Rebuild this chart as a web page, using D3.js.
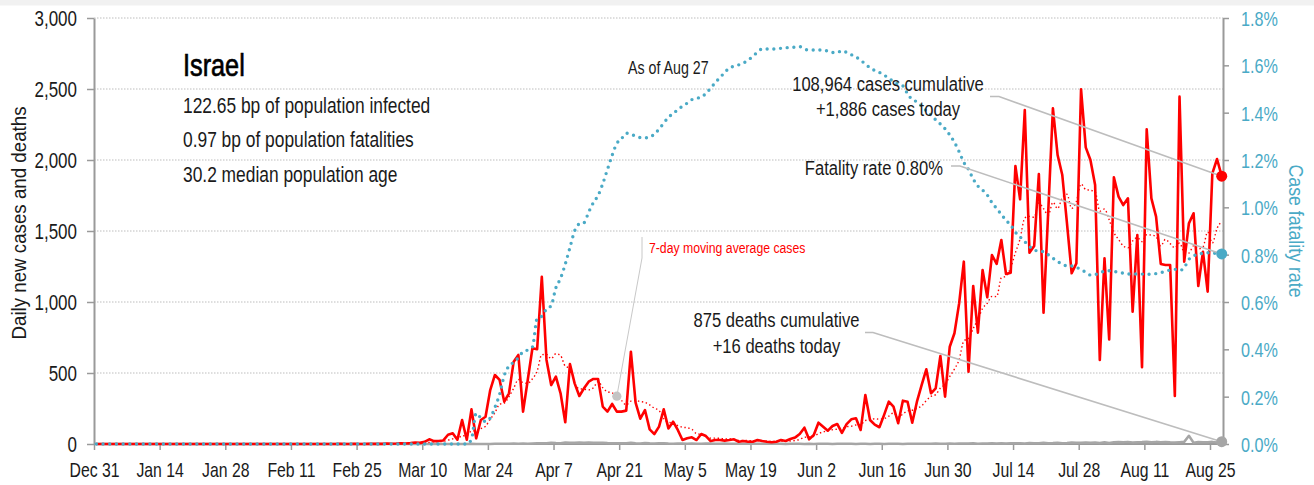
<!DOCTYPE html>
<html>
<head>
<meta charset="utf-8">
<script src="https://cdn.jsdelivr.net/npm/d3@7"></script>
<style>
  body { margin: 0; background: #fff; }
  svg text { font-family: "Liberation Sans", Arial, sans-serif; }
</style>
</head>
<body>
<svg id="chart" width="1314" height="485"></svg>
<script>
// Israel, daily series starting Dec 31, 2019 (one value per day through Aug 27, 2020)
const firstDate = "2019-12-31";

const dailyCases = [
  0,0,0,0,0,0,0,0,0,0, 0,0,0,0,0,0,0,0,0,0, 0,0,0,0,0,0,0,0,0,0,
  0,0,0,0,0,0,0,0,0,0, 0,0,0,0,0,0,0,0,0,0, 0,0,
  1,0,0,1,0,0,2,1,1,1,3,2,3,5,4,6,11,8,15,
  33,20,21,25,65,75,30,169,30,244,
  40,169,192,380,486,451,298,357,580,627,
  228,451,674,667,1178,592,415,474,357,153,
  563,427,338,392,439,458,458,263,228,282,
  228,228,235,650,292,178,239,103,70,122,
  244,110,157,99,28,40,47,28,70,56,
  21,28,28,24,28,33,16,21,16,16,
  28,21,16,12,16,28,21,35,45,70,
  115,33,63,150,122,94,127,141,78,140,
  174,181,99,345,169,136,118,205,298,263,
  146,305,298,150,298,415,526,357,392,620,
  333,685,780,990,1284,509,1113,784,1225,1033,
  1331,1268,1437,1197,1206,1958,1723,2352,1347,1394,
  1901,925,1636,2364,2035,1894,1554,1202,1272,2498,
  2089,2000,1824,592,1308,737,1878,1742,1683,1730,
  932,1472,540,2216,1730,1601,1268,1261,1261,338,
  2446,1284,1554,1625,1113,1354,1073,1906,2007,1886
];

const dailyDeaths = [
  0,0,0,0,0,0,0,0,0,0, 0,0,0,0,0,0,0,0,0,0, 0,0,0,0,0,0,0,0,0,0,
  0,0,0,0,0,0,0,0,0,0, 0,0,0,0,0,0,0,0,0,0, 0,0,0,0,0,0,0,0,0,0,
  0,0,0,0,0,0,0,0,0,0, 0,0,0,0,0,0,0,0,0,0,
  1,0,0,0,0,1,1,1,2,3,2,4,
  1,4,6,5,6,9,7,6,10,8, 9,11,9,10,8,8,9,7,6,6, 5,6,8,5,4,7,5,4,5,5,
  3,2,4,3,2,3,2,2,3,4, 1,2,3,1,2,2,1,3,1,2, 1,2,1,1,2,0,1,2,1,0, 1,
  0,1,2,1,0,2,1,1,1,0, 1,2,0,1,1,0,2,1,1,0, 2,1,1,2,1,1,3,2,2,3,
  2,4,3,3,5,2,4,3,5,4, 6,3,5,6,5,4,7,6,5,8, 6,7,9,6,7,10,8,9,11,8, 10,
  7,12,7,13,14,12,15,11,13,14, 16,12,15,13,14,12,11,13,15,58, 9,14,12,13,15,10,16
];

// cumulative deaths / cumulative cases, in percent
const fatalityRatePct = [
  0,0,0,0,0,0,0,0,0,0, 0,0,0,0,0,0,0,0,0,0, 0,0,0,0,0,0,0,0,0,0,
  0,0,0,0,0,0,0,0,0,0, 0,0,0,0,0,0,0,0,0,0, 0,0,0,0,0,0,0,0,0,0,
  0,0,0,0,0,0,0,0,0,0, 0,0,0,0,0,0,0,0,0,0,
  0.02,0.13,0.11,0.095,0.11,0.155,0.21,0.29,0.33,0.345,
  0.365,0.39,0.397,0.41,0.53,0.54,0.57,0.585,0.66,0.70,
  0.76,0.83,0.90,0.93,0.935,0.98,1.02,1.05,1.10,1.16,
  1.22,1.27,1.29,1.313,1.31,1.30,1.295,1.294,1.296,1.31,
  1.33,1.356,1.38,1.397,1.412,1.428,1.44,1.455,1.461,1.465,
  1.482,1.503,1.527,1.549,1.569,1.59,1.596,1.602,1.61,1.622,
  1.638,1.656,1.669,1.669,1.669,1.67,1.672,1.674,1.676,1.677,
  1.679,1.668,1.665,1.665,1.665,1.665,1.66,1.654,1.654,1.662,
  1.655,1.645,1.635,1.622,1.605,1.59,1.578,1.57,1.559,1.545,
  1.532,1.52,1.513,1.48,1.455,1.446,1.428,1.408,1.39,1.37,
  1.352,1.332,1.306,1.275,1.235,1.19,1.16,1.12,1.09,1.073,
  1.052,1.02,0.995,0.97,0.945,0.925,0.895,0.875,0.855,0.835,
  0.82,0.815,0.813,0.8,0.785,0.77,0.762,0.752,0.752,0.746,
  0.738,0.725,0.714,0.716,0.724,0.73,0.732,0.729,0.726,0.722,
  0.718,0.718,0.718,0.718,0.717,0.718,0.72,0.724,0.73,0.735,
  0.738,0.733,0.745,0.78,0.795,0.802,0.806,0.808,0.807,0.805,0.803
];

const caseTicks = [0, 500, 1000, 1500, 2000, 2500, 3000];
const rateTicks = [0, 0.2, 0.4, 0.6, 0.8, 1.0, 1.2, 1.4, 1.6, 1.8];
const dateTickStepDays = 14;
const dateTickCount = 18;

const infoLines = [
  "122.65 bp of population infected",
  "0.97 bp of population fatalities",
  "30.2 median population age"
];
const casesNote = ["108,964 cases cumulative", "+1,886 cases today"];
const deathsNote = ["875 deaths cumulative", "+16 deaths today"];
const rateNote = "Fatality rate 0.80%";
const asOfNote = "As of Aug 27";
const maNote = "7-day moving average cases";
const maNoteDay = 111;

// ---- layout
const W = 1314, H = 485;
const plot = { left: 94, right: 1223, top: 18, bottom: 444 };
const RED = "#ff0000", BLUE = "#4aaac6", GREY = "#a6a6a6", AXIS = "#9a9a9a", INK = "#1a1a1a";
const NARROW = 0.79;   // horizontal squeeze giving the condensed lettering

// squeeze text horizontally while keeping its anchor point in place
function squeeze(sel, k = NARROW) {
  sel.each(function () {
    const t = d3.select(this);
    const x = +(t.attr("x") || 0);
    t.attr("x", x / k);
    t.selectAll("tspan").each(function () {
      const ts = d3.select(this);
      if (ts.attr("x") != null) ts.attr("x", +ts.attr("x") / k);
    });
    const tr = t.attr("transform") || "";
    t.attr("transform", `${tr} scale(${k},1)`.trim());
  });
}

const svg = d3.select("#chart");
svg.append("rect").attr("x", 0).attr("y", 0).attr("width", W).attr("height", 5.5).attr("fill", "#f1f1f1");

const t0 = d3.timeParse("%Y-%m-%d")(firstDate);
const dayAt = i => d3.timeHour.offset(d3.timeDay.offset(t0, i), 12);
const tickDates = d3.range(dateTickCount).map(k => d3.timeDay.offset(t0, k * dateTickStepDays));

const x = d3.scaleTime()
  .domain([t0, tickDates[tickDates.length - 1]])
  .range([plot.left, 1210]);
const yL = d3.scaleLinear().domain([0, 3000]).range([plot.bottom, plot.top]);
const yR = d3.scaleLinear().domain([0, 1.8]).range([plot.bottom, plot.top]);

const rows = dailyCases.map((c, i) => ({
  date: dayAt(i),
  cases: c,
  deaths: dailyDeaths[i],
  rate: fatalityRatePct[i]
}));
// trailing 7-day mean of daily cases
rows.forEach((r, i) => {
  const win = rows.slice(Math.max(0, i - 6), i + 1);
  r.avg = d3.mean(win, d => d.cases);
});

// ---- grid
svg.append("g").selectAll("line")
  .data(caseTicks.filter(v => v > 0))
  .join("line")
  .attr("x1", plot.left).attr("x2", plot.right)
  .attr("y1", d => yL(d)).attr("y2", d => yL(d))
  .attr("stroke", "#bdbdbd").attr("stroke-width", 1)
  .attr("stroke-dasharray", "1.5 1.5");

// ---- axes
function styleAxis(g, color, size) {
  g.attr("font-family", null).attr("font-size", null);
  g.select(".domain").attr("stroke", AXIS).attr("stroke-width", 2);
  g.selectAll(".tick line").attr("stroke", AXIS).attr("stroke-width", 1.5);
  g.selectAll(".tick text").attr("fill", color).attr("font-size", size);
}

svg.append("g")
  .attr("transform", `translate(${plot.left},0)`)
  .call(d3.axisLeft(yL).tickValues(caseTicks).tickFormat(d3.format(",")).tickSize(7).tickSizeOuter(0).tickPadding(10))
  .call(g => styleAxis(g, INK, 21.5))
  .call(g => g.selectAll(".tick text").attr("dy", "0.36em").call(squeeze));

svg.append("g")
  .attr("transform", `translate(${plot.right},0)`)
  .call(d3.axisRight(yR).tickValues(rateTicks).tickFormat(d => d.toFixed(1) + "%").tickSize(6).tickSizeOuter(0).tickPadding(12))
  .call(g => styleAxis(g, BLUE, 20.5))
  .call(g => g.selectAll(".tick text").attr("dy", "0.36em").call(squeeze));

const xAxisG = svg.append("g")
  .attr("transform", `translate(0,${plot.bottom})`)
  .call(d3.axisBottom(x).tickValues(tickDates).tickFormat(d3.timeFormat("%b %-d")).tickSize(6).tickSizeOuter(0).tickPadding(13))
  .call(g => styleAxis(g, INK, 20))
  .call(g => g.selectAll(".tick text").call(squeeze));
xAxisG.select(".domain").attr("d", `M${plot.left},0H${plot.right}`);

// ---- axis titles
svg.append("text")
  .attr("transform", `translate(26,223) rotate(-90)`)
  .attr("text-anchor", "middle").attr("font-size", 19.5).attr("fill", INK)
  .text("Daily new cases and deaths")
  .call(squeeze, 0.96);
svg.append("text")
  .attr("transform", `translate(1289,231) rotate(90)`)
  .attr("text-anchor", "middle").attr("font-size", 19.5).attr("fill", BLUE)
  .text("Case fatality rate")
  .call(squeeze, 0.91);

// ---- series
const lineOf = (y, key) => d3.line().x(d => x(d.date)).y(d => y(d[key]));

svg.append("path").datum(rows)
  .attr("d", lineOf(yL, "deaths"))
  .attr("fill", "none").attr("stroke", GREY).attr("stroke-width", 2.5).attr("stroke-linejoin", "round");

svg.append("path").datum(rows)
  .attr("d", lineOf(yL, "cases"))
  .attr("fill", "none").attr("stroke", RED).attr("stroke-width", 2.6).attr("stroke-linejoin", "round");

svg.append("path").datum(rows)
  .attr("d", lineOf(yL, "avg").curve(d3.curveMonotoneX))
  .attr("fill", "none").attr("stroke", RED).attr("stroke-width", 1.4)
  .attr("stroke-dasharray", "1.4 2.6");

svg.append("path").datum(rows)
  .attr("d", lineOf(yR, "rate").curve(d3.curveMonotoneX))
  .attr("fill", "none").attr("stroke", BLUE).attr("stroke-width", 3.4)
  .attr("stroke-linecap", "round").attr("stroke-dasharray", "0 6.7");

// ---- annotations
const last = rows[rows.length - 1];
const leader = pts => svg.append("path")
  .attr("d", d3.line()(pts))
  .attr("fill", "none").attr("stroke", "#bdbdbd").attr("stroke-width", 1.6);

// moving-average callout
const maRow = rows[maNoteDay];
svg.append("path")
  .attr("d", d3.line()([[642, 237], [642, 258], [x(maRow.date), yL(maRow.avg)]]))
  .attr("fill", "none").attr("stroke", "#c8c8c8").attr("stroke-width", 1);
svg.append("circle").attr("cx", x(maRow.date)).attr("cy", yL(maRow.avg)).attr("r", 4.6).attr("fill", "#c4c4c4");
svg.append("text").attr("x", 649).attr("y", 253).attr("font-size", 15.5).attr("fill", RED).text(maNote).call(squeeze);

leader([[990, 96.5], [999, 96.5], [x(last.date), yL(last.cases)]]);
leader([[951, 166], [960, 166], [x(last.date), yR(last.rate)]]);
leader([[865, 332.5], [873, 332.5], [x(last.date), yL(last.deaths)]]);

svg.append("circle").attr("cx", x(last.date)).attr("cy", yL(last.cases)).attr("r", 5.5).attr("fill", RED);
svg.append("circle").attr("cx", x(last.date)).attr("cy", yR(last.rate)).attr("r", 5.5).attr("fill", BLUE);
svg.append("circle").attr("cx", x(last.date)).attr("cy", yL(last.deaths)).attr("r", 5.5).attr("fill", GREY);

const note = (lines, cx, y0, step, anchor) => {
  const t = svg.append("text").attr("font-size", 21).attr("fill", INK).attr("text-anchor", anchor);
  lines.forEach((s, i) => t.append("tspan").attr("x", cx).attr("y", y0 + i * step).text(s));
  squeeze(t);
};
note(casesNote, 888, 91.5, 24.5, "middle");
note([rateNote], 943, 175, 0, "end");
note(deathsNote, 776.5, 327.5, 25.8, "middle");

svg.append("text").attr("x", 628).attr("y", 74).attr("font-size", 18).attr("fill", INK).text(asOfNote).call(squeeze);

// ---- country block
svg.append("text").attr("x", 183).attr("y", 76).attr("font-size", 32)
  .attr("fill", "#000").attr("stroke", "#000").attr("stroke-width", 0.7)
  .text("Israel").call(squeeze);
infoLines.forEach((s, i) => {
  svg.append("text").attr("x", 183).attr("y", 112.7 + i * 34.5).attr("font-size", 22).attr("fill", INK).text(s).call(squeeze);
});
</script>
</body>
</html>
